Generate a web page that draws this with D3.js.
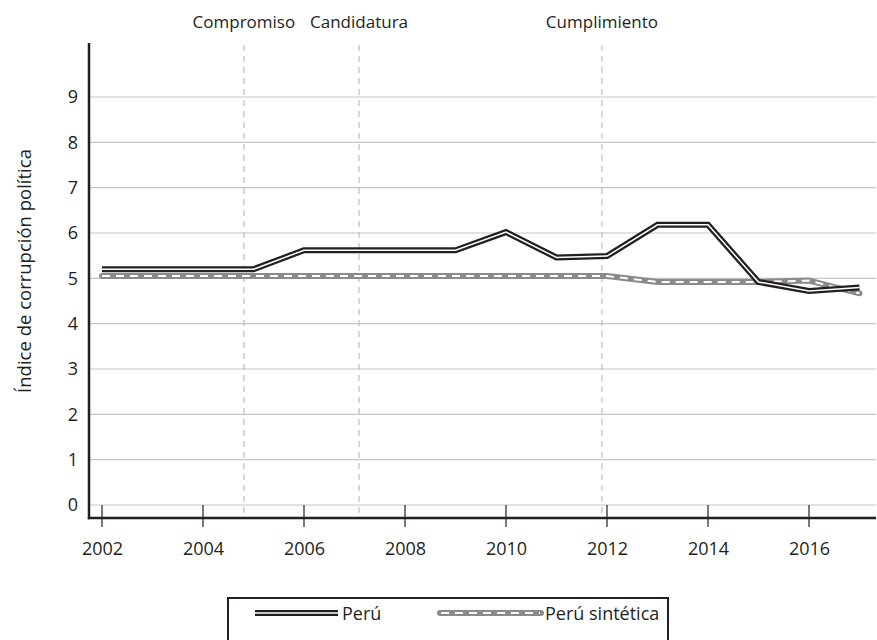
<!DOCTYPE html>
<html><head><meta charset="utf-8">
<script src="https://cdn.jsdelivr.net/npm/d3@7"></script>
<style>
body{margin:0;background:#fff;}
svg{display:block;font-family:"Open Sans",sans-serif;}
</style></head>
<body>
<svg id="c" width="877" height="640"></svg>
<script>
const years = [2002,2003,2004,2005,2006,2007,2008,2009,2010,2011,2012,2013,2014,2015,2016,2017];
const peru = [5.2,5.2,5.2,5.2,5.62,5.62,5.62,5.62,6.02,5.46,5.49,6.18,6.18,4.92,4.72,4.8];
const peruSint = [5.05,5.05,5.05,5.05,5.05,5.05,5.05,5.05,5.05,5.05,5.05,4.92,4.92,4.92,4.95,4.67];
const yTicks = [0,1,2,3,4,5,6,7,8,9];
const xTicks = [2002,2004,2006,2008,2010,2012,2014,2016];
const events = [{label:"Compromiso", year:2004.81},{label:"Candidatura", year:2007.09},{label:"Cumplimiento", year:2011.9}];
const seriesNames = ["Perú","Perú sintética"];
const yTitle = "Índice de corrupción política";

const svg = d3.select("#c");
const x = d3.scaleLinear().domain([2002,2017]).range([102,859.5]);
const y = d3.scaleLinear().domain([0,9]).range([505,97]);
const axisX0 = 89, axisX1 = 876, axisY = 518, axisTop = 43;
const dark = "#231f20";

// gridlines
svg.append("g").selectAll("line").data(yTicks).join("line")
  .attr("x1",axisX0).attr("x2",axisX1)
  .attr("y1",d=>y(d)).attr("y2",d=>y(d))
  .attr("stroke","#c6c6c6").attr("stroke-width",1.2);

// event dashed lines
svg.append("g").selectAll("line").data(events).join("line")
  .attr("x1",d=>x(d.year)).attr("x2",d=>x(d.year))
  .attr("y1",45).attr("y2",axisY)
  .attr("stroke","#b0b0b0").attr("stroke-width",1).attr("stroke-dasharray","6,5");
svg.append("g").selectAll("text").data(events).join("text")
  .attr("x",d=>x(d.year)).attr("y",28).attr("text-anchor","middle")
  .attr("font-size",17).attr("fill",dark).text(d=>d.label);

// y axis
const yAxis = d3.axisLeft(y).tickValues(yTicks).tickSize(0).tickPadding(11);
const gy = svg.append("g").attr("transform",`translate(${axisX0},0)`).call(yAxis);
gy.select(".domain").remove();
gy.selectAll("text").attr("font-size",18).attr("fill",dark).attr("font-family","Open Sans");
svg.append("line").attr("x1",axisX0).attr("x2",axisX0).attr("y1",axisTop).attr("y2",axisY+1.2)
  .attr("stroke",dark).attr("stroke-width",2.5);

// x axis
const xAxis = d3.axisBottom(x).tickValues(xTicks).tickFormat(d3.format("d")).tickSize(0).tickPadding(24);
const gx = svg.append("g").attr("transform",`translate(0,${axisY})`).call(xAxis);
gx.select(".domain").remove();
gx.selectAll("text").attr("font-size",18).attr("fill",dark).attr("font-family","Open Sans");
svg.append("line").attr("x1",axisX0-1.2).attr("x2",axisX1).attr("y1",axisY).attr("y2",axisY)
  .attr("stroke",dark).attr("stroke-width",2.5);
svg.append("g").selectAll("line").data(xTicks).join("line")
  .attr("x1",d=>x(d)).attr("x2",d=>x(d)).attr("y1",505).attr("y2",527)
  .attr("stroke",dark).attr("stroke-width",1.2);

// y title
svg.append("text").attr("transform","translate(23,271) rotate(-90)")
  .attr("text-anchor","middle").attr("dominant-baseline","central")
  .attr("font-size",18.5).attr("fill",dark).text(yTitle);

// lines
const line = d3.line().x((d,i)=>x(years[i])).y(d=>y(d));
// synthetic
svg.append("path").datum(peruSint).attr("d",line).attr("fill","none")
  .attr("stroke","#8a8a8a").attr("stroke-width",6).attr("stroke-linejoin","round").attr("stroke-linecap","round");
svg.append("path").datum(peruSint).attr("d",line).attr("fill","none")
  .attr("stroke","#fff").attr("stroke-width",2).attr("stroke-dasharray","8,6");
// peru
svg.append("path").datum(peru).attr("d",line).attr("fill","none")
  .attr("stroke",dark).attr("stroke-width",6).attr("stroke-linejoin","miter");
svg.append("path").datum(peru).attr("d",line).attr("fill","none")
  .attr("stroke","#fff").attr("stroke-width",1.5).attr("stroke-linejoin","miter");

// legend
svg.append("rect").attr("x",228).attr("y",598).attr("width",440).attr("height",60)
  .attr("fill","none").attr("stroke",dark).attr("stroke-width",2);
const ly = 613;
svg.append("line").attr("x1",255).attr("x2",338).attr("y1",ly).attr("y2",ly)
  .attr("stroke",dark).attr("stroke-width",6);
svg.append("line").attr("x1",255).attr("x2",338).attr("y1",ly).attr("y2",ly)
  .attr("stroke","#fff").attr("stroke-width",1.5);
svg.append("text").attr("x",342).attr("y",620).attr("font-size",18).attr("fill",dark).text(seriesNames[0]);
svg.append("line").attr("x1",440).attr("x2",541).attr("y1",ly).attr("y2",ly)
  .attr("stroke","#8a8a8a").attr("stroke-width",6).attr("stroke-linecap","round");
svg.append("line").attr("x1",441).attr("x2",540).attr("y1",ly).attr("y2",ly)
  .attr("stroke","#fff").attr("stroke-width",2).attr("stroke-dasharray","8,6");
svg.append("text").attr("x",545).attr("y",620).attr("font-size",18).attr("fill",dark).text(seriesNames[1]);
</script>
</body></html>
